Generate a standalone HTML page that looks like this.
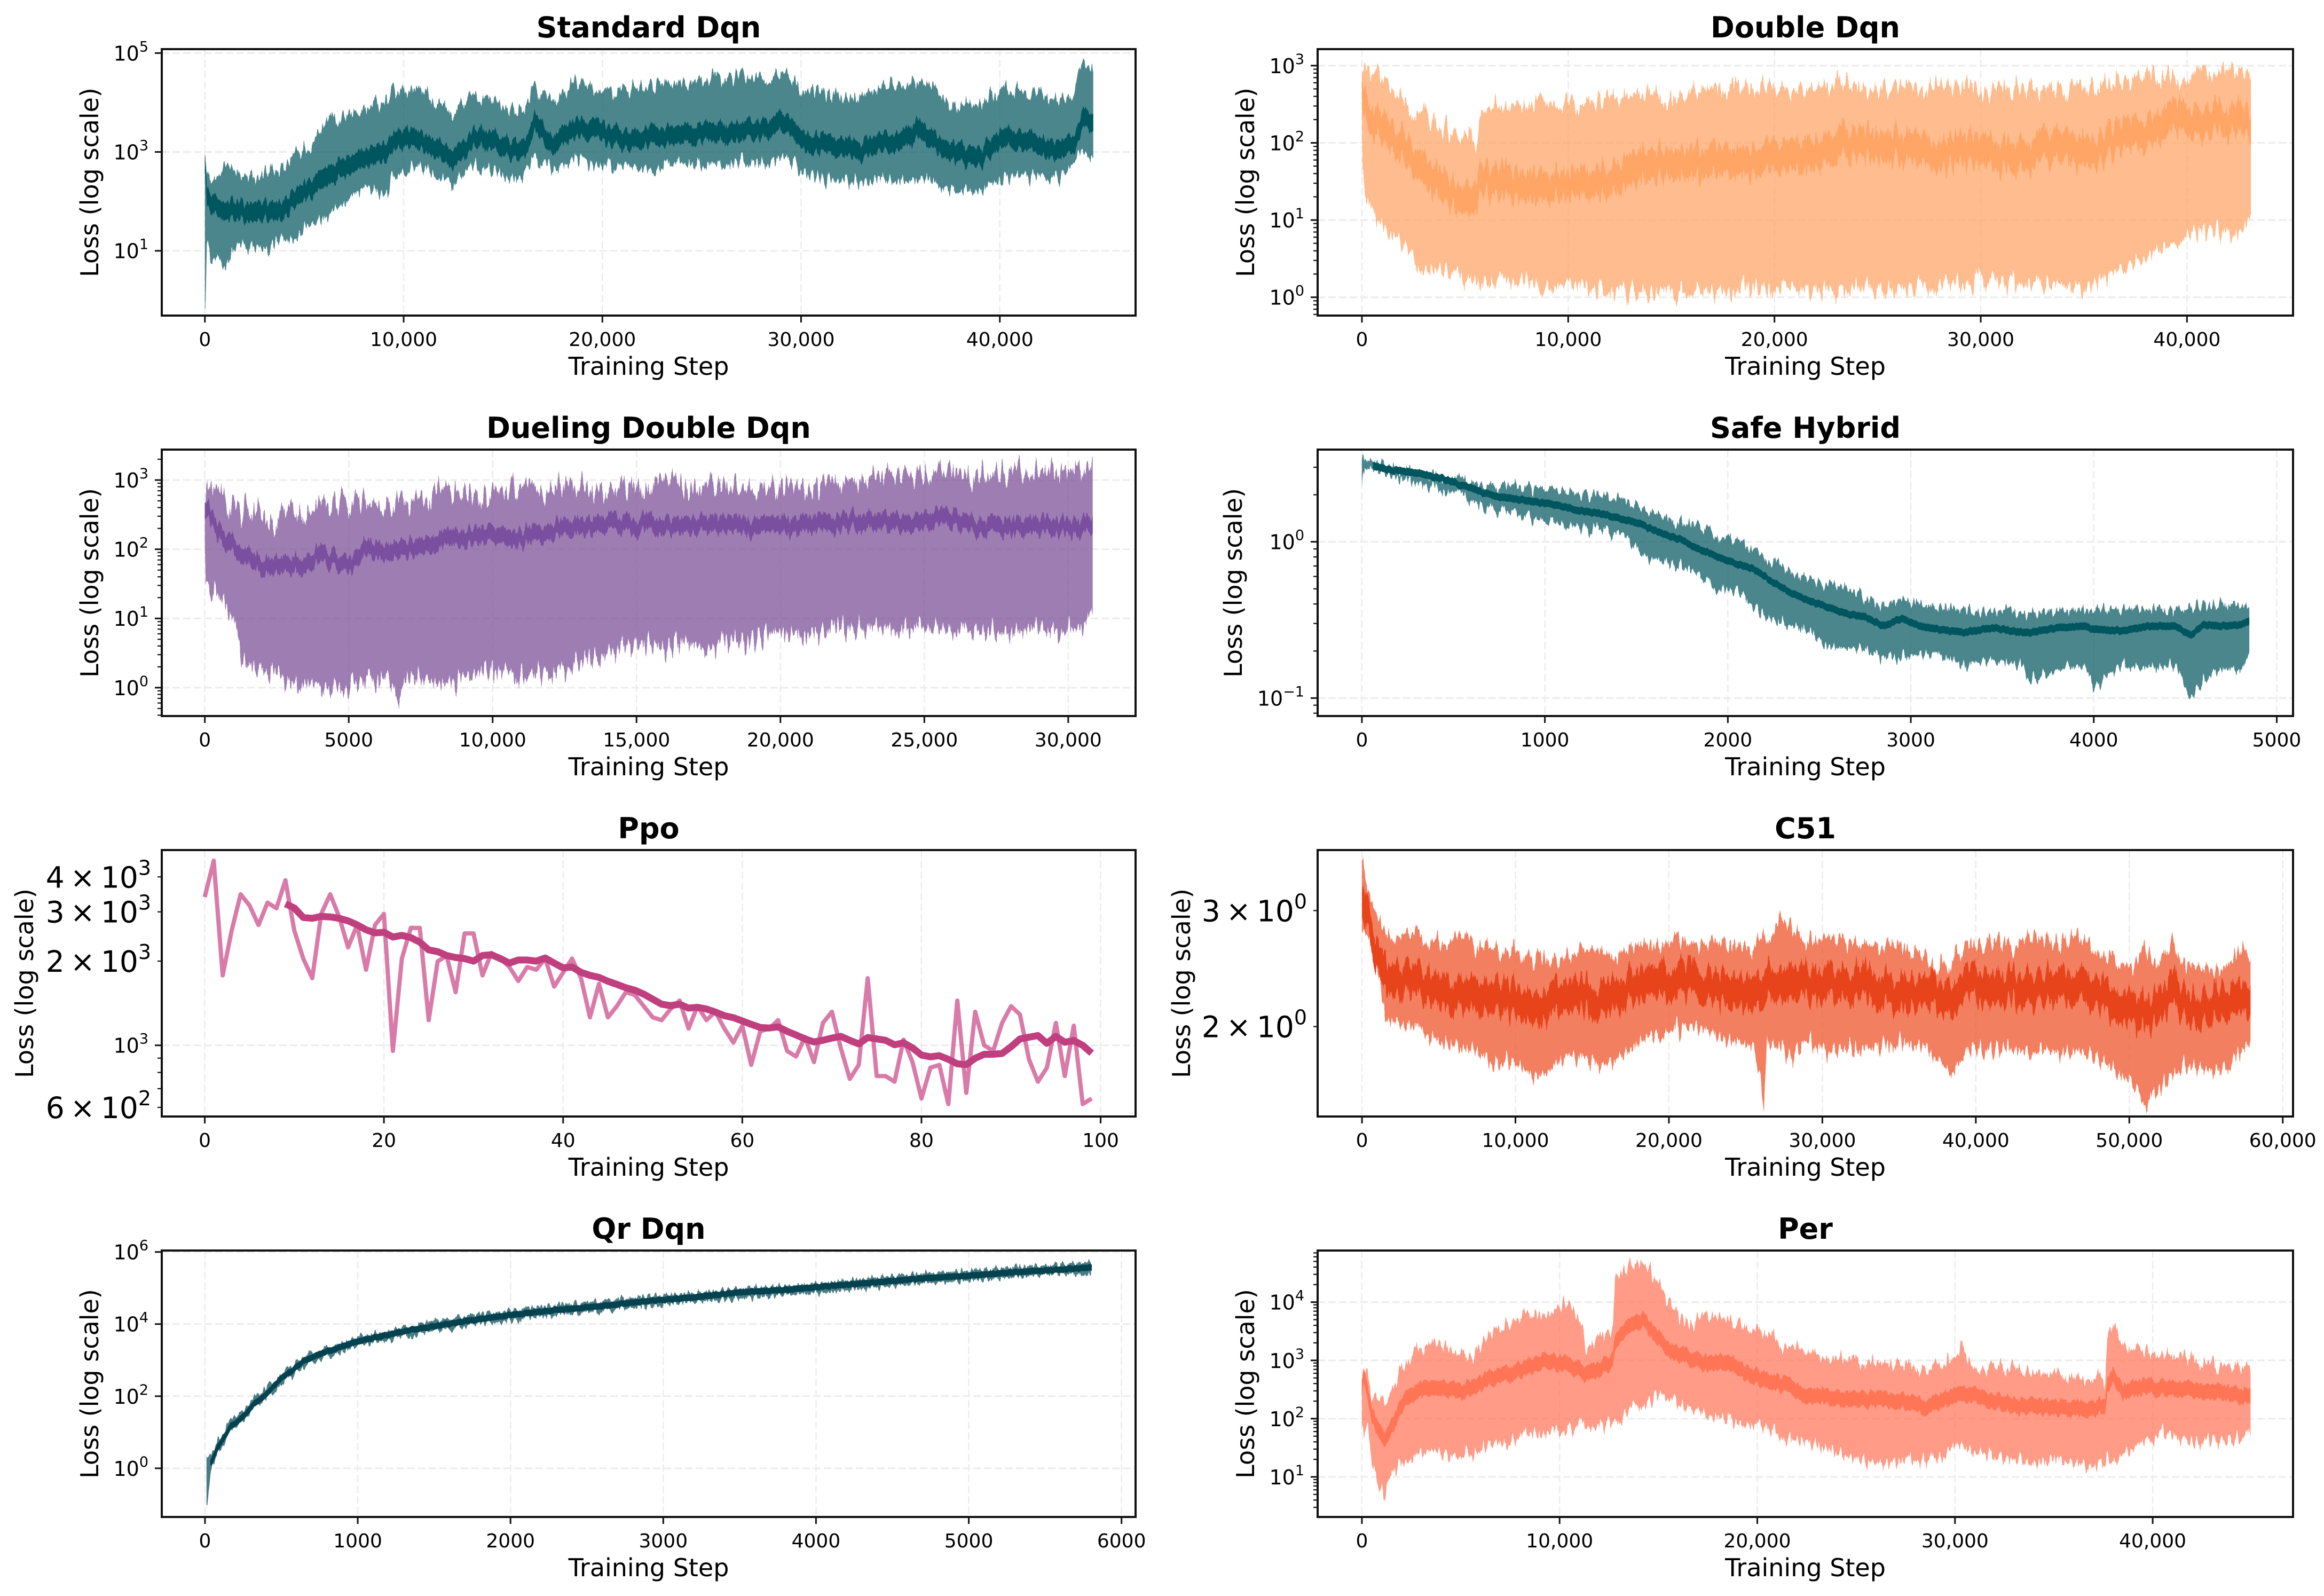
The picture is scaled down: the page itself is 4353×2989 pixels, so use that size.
<!DOCTYPE html>
<html lang="en">
<head>
<meta charset="utf-8">
<title>Training Loss by Algorithm</title>
<style>
html,body{margin:0;padding:0;background:#fff;}
svg{display:block;}
text{font-family:"DejaVu Sans","Liberation Sans",sans-serif;fill:#000;}
</style>
</head>
<body>
<svg id="chart" xmlns="http://www.w3.org/2000/svg" width="4353" height="2989" viewBox="0 0 4353 2989"><rect width="4353" height="2989" fill="#fff"/></svg>
<script>
// All loss series are log10(loss) values.
const stdSteps=[0,20,100,300,600,1000,1500,2000,2500,3000,3500,4000,4500,5000,5500,6000,7000,8000,9000,9500,10500,11500,12500,13500,14500,15500,16200,16600,17500,18500,19500,20500,21500,22500,23500,24500,25500,26500,27500,28500,29200,30000,31000,32000,33000,34000,35000,36000,37000,38000,39000,40000,41000,42000,43000,43800,44200,44700];
const stdUpper=[3.01,3.01,2.49,2.44,2.49,2.70,2.65,2.57,2.49,2.60,2.62,2.70,2.91,3.04,3.12,3.53,3.74,3.84,4.02,4.28,4.28,4.08,3.79,4.13,4.05,3.79,4.00,4.31,4.00,4.41,4.28,4.21,4.28,4.34,4.39,4.39,4.49,4.52,4.54,4.49,4.67,4.26,4.23,4.15,4.13,4.31,4.39,4.47,4.15,3.87,4.00,4.26,4.23,4.18,4.00,4.26,4.85,4.62];
const stdLower=[-0.10,-0.10,1.14,0.88,0.83,0.73,1.04,1.09,1.09,0.94,1.14,1.25,1.20,1.46,1.56,1.66,1.97,2.29,2.10,2.49,2.70,2.55,2.34,2.70,2.60,2.39,2.65,2.91,2.60,2.86,2.75,2.70,2.70,2.60,2.80,2.75,2.70,2.75,2.80,2.80,2.96,2.60,2.44,2.44,2.39,2.44,2.39,2.49,2.29,2.23,2.18,2.44,2.55,2.49,2.44,2.86,2.96,2.91];
const stdSmooth=[2.75,2.70,2.08,1.97,1.92,1.79,1.84,1.79,1.77,1.82,1.79,1.84,2.08,2.21,2.31,2.44,2.70,2.86,3.01,3.19,3.30,3.12,2.83,3.27,3.25,3.01,3.12,3.58,3.14,3.48,3.48,3.30,3.25,3.32,3.32,3.40,3.40,3.40,3.48,3.45,3.64,3.25,3.17,3.12,3.01,3.22,3.19,3.48,3.12,2.96,2.86,3.27,3.27,3.17,3.01,3.27,3.69,3.58];
const stdXTicks=[0,10000,20000,30000,40000];
const stdYTicks=[1,3,5];

const dblSteps=[0,30,150,400,700,1000,1300,1600,2000,2500,3000,3500,4000,4500,5000,5600,5750,6500,7500,8500,9500,10500,11500,12500,13500,14500,15500,16500,17500,18500,19500,20500,21500,22500,23500,24500,25500,26500,27500,28500,29500,30500,31500,32500,33500,34500,35500,36500,37500,38500,39500,40500,41500,42500,43100];
const dblUpper=[2.79,2.99,3.04,2.85,2.92,2.85,2.72,2.59,2.52,2.42,2.39,2.32,2.22,2.16,2.09,2.01,2.36,2.46,2.49,2.52,2.55,2.49,2.57,2.54,2.65,2.62,2.60,2.69,2.70,2.72,2.69,2.70,2.67,2.70,2.79,2.70,2.70,2.72,2.70,2.74,2.72,2.69,2.70,2.70,2.72,2.72,2.75,2.80,2.82,2.89,2.87,2.89,2.95,2.92,2.82];
const dblLower=[2.19,1.59,1.39,1.19,1.03,0.93,0.79,0.76,0.66,0.46,0.40,0.33,0.30,0.26,0.26,0.16,0.23,0.23,0.23,0.16,0.13,0.13,0.10,0.06,0.06,0.06,0.06,0.03,0.06,0.10,0.13,0.13,0.10,0.10,0.10,0.10,0.10,0.15,0.16,0.20,0.21,0.23,0.21,0.20,0.15,0.11,0.15,0.30,0.43,0.59,0.66,0.86,0.86,0.79,1.06];
const dblSmooth=[2.75,2.59,2.49,2.36,2.29,2.16,2.09,2.02,1.96,1.79,1.62,1.52,1.43,1.33,1.26,1.29,1.52,1.49,1.46,1.43,1.46,1.52,1.49,1.56,1.66,1.72,1.76,1.72,1.79,1.76,1.79,1.82,1.82,1.89,1.99,2.02,1.99,1.92,1.89,1.86,1.89,1.86,1.82,1.89,1.92,1.89,1.89,2.09,2.16,2.22,2.29,2.26,2.32,2.29,2.26];
const dblXTicks=[0,10000,20000,30000,40000];
const dblYTicks=[0,1,2,3];

const duelSteps=[0,30,200,500,800,1100,1300,1600,2000,2300,2600,3000,3500,4000,4500,5000,5500,6000,6500,6700,7000,7500,8000,8500,9000,9500,10000,10500,11000,11500,12000,12500,13000,13500,14000,14500,15000,15500,16000,16500,17000,17500,18000,18500,19000,19500,20000,20500,21000,21500,22000,22500,23000,23500,24000,24500,25000,25500,26000,26500,27000,27500,28000,28500,29000,29500,30000,30500,30850];
const duelUpper=[2.70,2.87,2.91,2.87,2.63,2.59,2.55,2.59,2.48,2.37,2.52,2.55,2.59,2.67,2.63,2.67,2.67,2.67,2.67,2.78,2.70,2.76,2.81,2.80,2.85,2.81,2.81,2.89,2.87,2.89,2.87,2.87,2.89,2.89,2.91,2.93,2.89,2.96,2.96,2.93,2.94,2.93,2.94,2.89,2.81,2.87,2.89,2.89,2.89,2.93,2.96,3.00,3.00,3.15,3.07,3.07,3.07,3.11,3.15,3.07,3.07,3.11,3.11,3.11,3.11,3.13,3.15,3.17,3.17];
const duelLower=[2.18,1.63,1.37,1.25,1.14,0.81,0.44,0.29,0.29,0.21,0.14,0.07,-0.01,-0.01,-0.01,-0.04,0.07,0.14,0.10,-0.19,0.10,0.10,0.07,0.07,0.18,0.21,0.25,0.18,0.10,0.21,0.21,0.25,0.33,0.40,0.47,0.59,0.62,0.62,0.55,0.66,0.62,0.51,0.70,0.66,0.66,0.77,0.81,0.77,0.73,0.81,0.88,0.81,0.85,0.88,0.81,0.85,0.88,0.85,0.81,0.85,0.81,0.81,0.77,0.85,0.88,0.77,0.81,0.88,1.03];
const duelSmooth=[2.63,2.59,2.48,2.26,2.11,2.00,1.92,1.85,1.77,1.77,1.74,1.77,1.83,1.89,1.85,1.77,2.00,2.03,1.96,2.03,2.03,2.07,2.11,2.18,2.18,2.18,2.22,2.22,2.15,2.22,2.26,2.33,2.29,2.33,2.37,2.37,2.33,2.37,2.33,2.37,2.37,2.33,2.37,2.37,2.29,2.33,2.33,2.33,2.33,2.37,2.37,2.41,2.37,2.41,2.41,2.37,2.41,2.48,2.44,2.37,2.33,2.37,2.33,2.33,2.37,2.33,2.33,2.33,2.37];
const duelXTicks=[0,5000,10000,15000,20000,25000,30000];
const duelYTicks=[0,1,2,3];

const safeSteps=[0,15,60,150,300,450,600,700,850,1000,1150,1300,1450,1550,1600,1750,1850,1950,2050,2150,2250,2350,2450,2550,2650,2750,2850,2950,3050,3150,3300,3450,3600,3660,3800,3950,4000,4150,4300,4450,4530,4600,4700,4800,4850];
const safeUpper=[0.52,0.52,0.51,0.48,0.45,0.41,0.38,0.35,0.36,0.34,0.32,0.29,0.25,0.23,0.18,0.13,0.09,0.03,0.01,-0.03,-0.13,-0.20,-0.25,-0.28,-0.28,-0.36,-0.40,-0.37,-0.40,-0.42,-0.44,-0.44,-0.45,-0.46,-0.44,-0.44,-0.43,-0.43,-0.43,-0.43,-0.41,-0.40,-0.40,-0.41,-0.43];
const safeLower=[0.35,0.46,0.46,0.43,0.38,0.33,0.26,0.20,0.18,0.13,0.10,0.07,0.02,-0.08,-0.12,-0.15,-0.23,-0.31,-0.31,-0.41,-0.51,-0.54,-0.58,-0.68,-0.68,-0.69,-0.74,-0.74,-0.72,-0.72,-0.79,-0.76,-0.79,-0.89,-0.82,-0.79,-0.94,-0.79,-0.81,-0.79,-1.02,-0.89,-0.82,-0.82,-0.71];
const safeSmooth=[null,null,0.49,0.46,0.44,0.40,0.34,0.30,0.27,0.25,0.21,0.18,0.14,0.10,0.07,0.01,-0.05,-0.10,-0.14,-0.18,-0.26,-0.33,-0.38,-0.42,-0.46,-0.48,-0.54,-0.49,-0.54,-0.56,-0.58,-0.55,-0.58,-0.58,-0.55,-0.54,-0.56,-0.57,-0.54,-0.54,-0.60,-0.53,-0.54,-0.53,-0.51];
const safeXTicks=[0,1000,2000,3000,4000,5000];
const safeYTicks=[-1,0];

const ppoSteps=[0,1,2,3,4,5,6,7,8,9,10,11,12,13,14,15,16,17,18,19,20,21,22,23,24,25,26,27,28,29,30,31,32,33,34,35,36,37,38,39,40,41,42,43,44,45,46,47,48,49,50,51,52,53,54,55,56,57,58,59,60,61,62,63,64,65,66,67,68,69,70,71,72,73,74,75,76,77,78,79,80,81,82,83,84,85,86,87,88,89,90,91,92,93,94,95,96,97,98,99];
const ppoRaw=[3.53,3.66,3.25,3.41,3.54,3.50,3.43,3.51,3.49,3.59,3.41,3.31,3.24,3.47,3.54,3.46,3.35,3.43,3.27,3.43,3.47,2.98,3.31,3.42,3.42,3.09,3.30,3.32,3.19,3.40,3.40,3.25,3.33,3.31,3.28,3.23,3.28,3.27,3.31,3.21,3.26,3.31,3.24,3.10,3.22,3.10,3.14,3.19,3.18,3.14,3.10,3.09,3.13,3.16,3.06,3.14,3.09,3.12,3.06,3.01,3.07,2.93,3.05,3.06,3.09,2.98,2.96,3.03,2.94,3.08,3.12,2.99,2.88,2.93,3.24,2.89,2.89,2.87,3.02,2.94,2.81,2.92,2.93,2.79,3.16,2.83,3.12,3.00,2.98,3.08,3.14,3.11,2.95,2.87,2.92,3.08,2.89,3.07,2.79,2.81];
const ppoSmooth=[null,null,null,null,null,null,null,null,null,3.506,3.491,3.457,3.454,3.461,3.459,3.454,3.445,3.431,3.413,3.402,3.404,3.387,3.393,3.385,3.369,3.341,3.335,3.321,3.314,3.310,3.301,3.321,3.324,3.310,3.294,3.305,3.305,3.301,3.312,3.294,3.277,3.280,3.261,3.250,3.243,3.229,3.218,3.206,3.197,3.183,3.165,3.147,3.142,3.147,3.133,3.136,3.130,3.119,3.106,3.099,3.087,3.075,3.064,3.062,3.066,3.050,3.037,3.023,3.012,3.018,3.026,3.032,3.018,3.005,3.028,3.023,3.018,3.002,3.009,2.991,2.965,2.959,2.963,2.950,2.934,2.931,2.954,2.968,2.968,2.971,2.995,3.023,3.029,3.035,3.007,3.032,3.011,3.017,3.000,2.972];
const ppoXTicks=[0,20,40,60,80,100];
const ppoYTicks=[3];
const ppoYMinorLabels=[600,2000,3000,4000];

const c51Steps=[0,50,200,500,800,1100,1400,2000,2800,3500,4500,5500,6500,7500,8500,9500,10500,11400,12500,13500,14500,15500,16500,17500,18500,19500,20500,21500,22500,23500,24500,25500,26200,26400,27300,28000,28800,29500,30500,31500,32500,33500,34500,35500,36500,37500,38500,39500,40500,41500,42500,43500,44500,45500,46500,47500,48500,49500,50500,51000,52000,52800,53500,54500,55500,56500,57500,57900];
const c51Upper=[0.552,0.552,0.533,0.502,0.475,0.459,0.444,0.432,0.440,0.444,0.432,0.432,0.436,0.424,0.421,0.417,0.409,0.405,0.401,0.413,0.424,0.409,0.413,0.421,0.428,0.428,0.432,0.432,0.424,0.428,0.421,0.417,0.452,0.428,0.459,0.452,0.436,0.432,0.438,0.432,0.432,0.421,0.421,0.421,0.413,0.393,0.401,0.424,0.432,0.432,0.421,0.432,0.428,0.426,0.438,0.421,0.409,0.393,0.401,0.413,0.393,0.436,0.401,0.393,0.389,0.389,0.421,0.401];
const c51Lower=[0.432,0.432,0.448,0.440,0.401,0.370,0.319,0.308,0.300,0.300,0.284,0.272,0.269,0.265,0.241,0.249,0.237,0.222,0.241,0.257,0.253,0.241,0.249,0.265,0.288,0.288,0.296,0.304,0.292,0.280,0.276,0.272,0.187,0.272,0.269,0.249,0.280,0.272,0.261,0.269,0.265,0.269,0.272,0.276,0.269,0.253,0.226,0.269,0.265,0.265,0.269,0.257,0.265,0.261,0.261,0.257,0.245,0.226,0.206,0.183,0.206,0.226,0.241,0.237,0.234,0.237,0.272,0.272];
const c51Smooth=[0.487,0.495,0.479,0.456,0.424,0.401,0.385,0.378,0.374,0.374,0.362,0.350,0.350,0.346,0.346,0.343,0.335,0.323,0.343,0.350,0.346,0.339,0.343,0.362,0.370,0.370,0.366,0.374,0.362,0.354,0.358,0.354,0.354,0.370,0.370,0.370,0.370,0.370,0.366,0.366,0.370,0.354,0.354,0.350,0.358,0.346,0.339,0.366,0.362,0.354,0.362,0.358,0.362,0.358,0.362,0.358,0.343,0.335,0.323,0.319,0.331,0.354,0.343,0.327,0.339,0.335,0.354,0.339];
const c51XTicks=[0,10000,20000,30000,40000,50000,60000];
const c51YTicks=[];
const c51YMinorLabels=[2,3];

const qrSteps=[10,15,40,80,120,170,220,270,320,370,430,500,570,650,750,850,1000,1150,1300,1500,1700,2000,2300,2600,2900,3200,3500,3800,4100,4400,4700,5000,5300,5600,5800];
const qrUpper=[0.34,0.34,0.41,0.76,0.97,1.35,1.45,1.66,1.94,2.08,2.36,2.64,2.85,3.13,3.27,3.45,3.62,3.76,3.90,4.08,4.22,4.39,4.53,4.64,4.78,4.85,4.99,5.06,5.16,5.30,5.41,5.48,5.59,5.65,5.72];
const qrLower=[-1.03,-1.03,-0.01,0.41,0.65,1.03,1.17,1.38,1.66,1.80,2.05,2.36,2.57,2.85,3.06,3.20,3.38,3.52,3.66,3.80,3.94,4.11,4.25,4.36,4.50,4.60,4.71,4.81,4.88,5.02,5.13,5.20,5.30,5.41,5.34];
const qrSmooth=[null,null,0.16,0.55,0.83,1.17,1.31,1.52,1.80,1.94,2.19,2.50,2.71,2.99,3.17,3.31,3.52,3.66,3.80,3.94,4.08,4.25,4.39,4.50,4.64,4.74,4.88,4.95,5.06,5.16,5.27,5.34,5.44,5.51,5.57];
const qrXTicks=[0,1000,2000,3000,4000,5000,6000];
const qrYTicks=[0,2,4,6];

const perSteps=[0,100,300,500,800,1000,1100,1300,1600,2000,2400,2700,3000,4000,5000,5500,6500,7500,8500,9500,10300,11000,11300,12000,12700,12800,13500,14200,14800,15500,16500,17500,18500,19500,20500,21500,22500,23500,24500,25500,26500,27500,28500,29500,30000,30300,31000,32000,33000,34000,35000,36000,37000,37600,37700,38000,38500,39500,40500,41500,42500,43500,44500,44950];
const perUpper=[2.60,2.82,2.73,2.30,2.39,2.34,2.26,2.39,2.52,2.91,2.91,3.17,3.21,3.30,3.12,2.99,3.51,3.64,3.82,3.77,4.01,3.77,3.17,3.43,3.51,4.38,4.64,4.69,4.43,4.03,3.60,3.82,3.69,3.60,3.43,3.25,3.12,3.04,3.02,2.95,2.95,2.91,2.78,2.99,3.04,3.28,2.91,2.86,2.86,2.78,2.78,2.69,2.69,2.69,3.30,3.69,3.25,3.17,3.08,3.08,2.99,2.86,2.95,2.91];
const perLower=[1.96,1.82,1.82,1.30,0.87,0.82,0.50,0.91,1.13,1.21,1.26,1.30,1.48,1.39,1.34,1.39,1.61,1.61,1.74,1.82,1.74,1.91,1.82,1.87,1.91,1.95,2.13,2.21,2.39,2.34,2.21,2.08,1.96,1.95,1.82,1.65,1.56,1.48,1.34,1.26,1.21,1.30,1.26,1.39,1.56,1.52,1.48,1.34,1.30,1.21,1.30,1.21,1.17,1.26,1.30,1.30,1.39,1.56,1.74,1.61,1.61,1.61,1.65,1.82];
const perSmooth=[2.52,2.69,2.43,2.04,1.82,1.69,1.65,1.74,1.91,2.26,2.39,2.47,2.54,2.52,2.49,2.52,2.69,2.78,2.91,2.99,2.95,2.86,2.78,2.84,2.99,3.30,3.60,3.69,3.47,3.17,3.04,2.95,2.95,2.78,2.65,2.56,2.39,2.39,2.34,2.34,2.32,2.30,2.19,2.34,2.39,2.43,2.39,2.30,2.23,2.21,2.21,2.17,2.17,2.26,2.56,2.73,2.47,2.56,2.52,2.52,2.47,2.43,2.39,2.39];
const perXTicks=[0,10000,20000,30000,40000];
const perYTicks=[1,2,3,4];

const SVGNS='http://www.w3.org/2000/svg';
const root=document.getElementById('chart');
const colLeft=[303,2468];
const colRight=[2127,4295];
const rowTop=[92,842,1592,2342];
const rowBottom=[591,1341,2091,2841];

const panels=[
 {id:'standard-dqn',title:'Standard Dqn',col:0,row:0,xlim:[-2170,46830],ylim:[-0.31,5.08],steps:stdSteps,upper:stdUpper,lower:stdLower,smooth:stdSmooth,xTicks:stdXTicks,yTicks:stdYTicks,minors:false,minorLabels:[],labelX:168,band:'#00545e',bandOp:0.7,line:'#00565f',lw:34,bandNoise:40,lineNoise:24,seed:3},
 {id:'double-dqn',title:'Double Dqn',col:1,row:0,xlim:[-2147,45140],ylim:[-0.237,3.214],steps:dblSteps,upper:dblUpper,lower:dblLower,smooth:dblSmooth,xTicks:dblXTicks,yTicks:dblYTicks,minors:true,minorLabels:[],labelX:2333,band:'#ffa160',bandOp:0.7,line:'#ffa566',lw:54,bandNoise:55,lineNoise:50,seed:7},
 {id:'dueling-double-dqn',title:'Dueling Double Dqn',col:0,row:1,xlim:[-1497,32340],ylim:[-0.41,3.44],steps:duelSteps,upper:duelUpper,lower:duelLower,smooth:duelSmooth,xTicks:duelXTicks,yTicks:duelYTicks,minors:true,minorLabels:[],labelX:168,band:'#764892',bandOp:0.7,line:'#7a4f9f',lw:30,bandNoise:65,lineNoise:28,seed:11},
 {id:'safe-hybrid',title:'Safe Hybrid',col:1,row:1,xlim:[-242,5089],ylim:[-1.115,0.59],steps:safeSteps,upper:safeUpper,lower:safeLower,smooth:safeSmooth,xTicks:safeXTicks,yTicks:safeYTicks,minors:true,minorLabels:[],labelX:2310,band:'#00545e',bandOp:0.7,line:'#00565f',lw:14,bandNoise:34,lineNoise:5,seed:13},
 {id:'ppo',title:'Ppo',col:0,row:2,xlim:[-4.8,103.9],ylim:[2.7456,3.698],steps:ppoSteps,raw:ppoRaw,smooth:ppoSmooth,xTicks:ppoXTicks,yTicks:ppoYTicks,minors:true,minorLabels:ppoYMinorLabels,labelX:46,band:'#c73c80',bandOp:0.68,line:'#c0407f',lw:13,seed:17},
 {id:'c51',title:'C51',col:1,row:2,xlim:[-2890,60670],ylim:[0.1645,0.569],steps:c51Steps,upper:c51Upper,lower:c51Lower,smooth:c51Smooth,xTicks:c51XTicks,yTicks:c51YTicks,minors:true,minorLabels:c51YMinorLabels,labelX:2213,band:'#ee4a1f',bandOp:0.7,line:'#e8441b',lw:58,bandNoise:50,lineNoise:50,seed:19},
 {id:'qr-dqn',title:'Qr Dqn',col:0,row:3,xlim:[-283,6092],ylim:[-1.35,6.04],steps:qrSteps,upper:qrUpper,lower:qrLower,smooth:qrSmooth,xTicks:qrXTicks,yTicks:qrYTicks,minors:false,minorLabels:[],labelX:168,band:'#004450',bandOp:0.7,line:'#05424f',lw:9,bandNoise:18,lineNoise:3,seed:23},
 {id:'per',title:'Per',col:1,row:3,xlim:[-2240,47100],ylim:[0.312,4.886],steps:perSteps,upper:perUpper,lower:perLower,smooth:perSmooth,xTicks:perXTicks,yTicks:perYTicks,minors:true,minorLabels:[],labelX:2333,band:'#ff7254',bandOp:0.7,line:'#ff7556',lw:28,bandNoise:40,lineNoise:14,seed:29}
];

function make(tag,attrs,parent){
  const el=document.createElementNS(SVGNS,tag);
  for(const k in attrs){el.setAttribute(k,attrs[k]);}
  if(parent){parent.appendChild(el);}
  return el;
}
function xScale(p,step){
  const l=colLeft[p.col],r=colRight[p.col];
  return l+(step-p.xlim[0])/(p.xlim[1]-p.xlim[0])*(r-l);
}
function yScale(p,logValue){
  const t=rowTop[p.row],b=rowBottom[p.row];
  return b-(logValue-p.ylim[0])/(p.ylim[1]-p.ylim[0])*(b-t);
}
function fmtStep(v){
  return v>=10000?String(v).replace(/\B(?=(\d{3})+(?!\d))/g,','):String(v);
}
function noiseFilter(defs,id,p,scale,seed){
  const l=colLeft[p.col],t=rowTop[p.row];
  const f=make('filter',{id:id,filterUnits:'userSpaceOnUse',x:l-10,y:t-60,width:colRight[p.col]-l+20,height:rowBottom[p.row]-t+120,'color-interpolation-filters':'sRGB'},defs);
  make('feTurbulence',{type:'fractalNoise',baseFrequency:'0.16 0.0025',numOctaves:3,seed:seed,result:'n'},f);
  make('feColorMatrix',{in:'n',type:'matrix',values:'1.5 0 0 0 -0.25  0 0 0 0 0  0 0 0 0 0.5  0 0 0 0 1',result:'m'},f);
  make('feDisplacementMap',{in:'SourceGraphic',in2:'m',scale:scale,xChannelSelector:'B',yChannelSelector:'R'},f);
}

const defs=make('defs',{},root);

panels.forEach(function(p){
  const l=colLeft[p.col],r=colRight[p.col],t=rowTop[p.row],b=rowBottom[p.row];
  const g=make('g',{},root);
  
  

  make('rect',{x:l,y:t,width:r-l,height:b-t,fill:'#fff'},g);

  const clip=make('clipPath',{id:'clip-'+p.id},defs);
  make('rect',{x:l,y:t,width:r-l,height:b-t},clip);

  // grid
  p.xTicks.forEach(function(v){
    const x=xScale(p,v);
    if(x<l||x>r){return;}
    const gl=make('line',{x1:x,x2:x,y1:t,y2:b,stroke:'#ececec','stroke-width':2.5,'stroke-dasharray':'14 6'},g);
    
    
  });
  p.yTicks.forEach(function(v){
    const y=yScale(p,v);
    const gl=make('line',{x1:l,x2:r,y1:y,y2:y,stroke:'#ececec','stroke-width':3,'stroke-dasharray':'14 6'},g);
    
    
  });

  // marks
  const plot=make('g',{'clip-path':'url(#clip-'+p.id+')'},g);
  if(p.raw){
    const pts=p.steps.map(function(s,i){return xScale(p,s).toFixed(1)+','+yScale(p,p.raw[i]).toFixed(1);}).join(' ');
    const rawLine=make('polyline',{points:pts,fill:'none',stroke:p.band,'stroke-opacity':p.bandOp,'stroke-width':8,'stroke-linejoin':'round'},plot);
    
    
    const smoothPts=[];
    p.steps.forEach(function(s,i){
      if(p.smooth[i]===null){return;}
      smoothPts.push(xScale(p,s).toFixed(1)+','+yScale(p,p.smooth[i]).toFixed(1));
    });
    const smoothLine=make('polyline',{points:smoothPts.join(' '),fill:'none',stroke:p.line,'stroke-width':p.lw,'stroke-linejoin':'round','stroke-linecap':'butt'},plot);
    
    
  }else{
    noiseFilter(defs,'band-noise-'+p.id,p,p.bandNoise,p.seed);
    noiseFilter(defs,'line-noise-'+p.id,p,p.lineNoise,p.seed+1);
    const top=p.steps.map(function(s,i){return xScale(p,s).toFixed(1)+','+yScale(p,p.upper[i]).toFixed(1);});
    const bot=p.steps.map(function(s,i){return xScale(p,s).toFixed(1)+','+yScale(p,p.lower[i]).toFixed(1);}).reverse();
    const bandGroup=make('g',{opacity:p.bandOp},plot);
    const band=make('polygon',{points:top.concat(bot).join(' '),fill:p.band,filter:'url(#band-noise-'+p.id+')'},bandGroup);
    
    
    const upperEdge=[];
    const lowerEdge=[];
    p.steps.forEach(function(s,i){
      if(p.smooth[i]===null){return;}
      const x=xScale(p,s).toFixed(1);
      const y=yScale(p,p.smooth[i]);
      upperEdge.push(x+','+(y-p.lw/2).toFixed(1));
      lowerEdge.unshift(x+','+(y+p.lw/2).toFixed(1));
    });
    const smoothBand=make('polygon',{points:upperEdge.concat(lowerEdge).join(' '),fill:p.line,stroke:p.line,'stroke-width':p.lw<12?3:0,filter:'url(#line-noise-'+p.id+')'},plot);
    
    
  }

  // spines
  const frame=make('rect',{x:l,y:t,width:r-l,height:b-t,fill:'none',stroke:'#111','stroke-width':4},g);
  
  

  // x ticks
  p.xTicks.forEach(function(v){
    const x=xScale(p,v);
    const tk=make('line',{x1:x,x2:x,y1:b,y2:b+13,stroke:'#111','stroke-width':3},g);
    
    
    const lb=make('text',{x:x,y:b+57,'text-anchor':'middle','font-size':36},g);
    lb.textContent=fmtStep(v);
    
    
  });

  // y major ticks
  p.yTicks.forEach(function(v){
    const y=yScale(p,v);
    const tk=make('line',{x1:l-13,x2:l,y1:y,y2:y,stroke:'#111','stroke-width':3},g);
    
    
    const lb=make('text',{x:l-25,y:y+14,'text-anchor':'end','font-size':38},g);
    
    
    make('tspan',{},lb).textContent='10';
    make('tspan',{dy:-17,'font-size':27},lb).textContent=String(v).replace('-','\u2212');
  });

  // y minor ticks
  if(p.minors){
    for(let e=Math.floor(p.ylim[0]);e<Math.ceil(p.ylim[1]);e++){
      for(let m=2;m<10;m++){
        const lv=e+Math.log10(m);
        if(lv<p.ylim[0]||lv>p.ylim[1]){continue;}
        const y=yScale(p,lv);
        const tk=make('line',{x1:l-8,x2:l,y1:y,y2:y,stroke:'#111','stroke-width':2.2},g);
        
        
      }
    }
  }

  // labelled minor ticks (m x 10^e)
  p.minorLabels.forEach(function(v){
    const e=Math.floor(Math.log10(v)+1e-9);
    const m=Math.round(v/Math.pow(10,e));
    const y=yScale(p,Math.log10(v));
    const lb=make('text',{x:l-20,y:y+20,'text-anchor':'end','font-size':55},g);
    
    
    make('tspan',{},lb).textContent=m+'\u2009\u00d7\u200910';
    make('tspan',{dy:-24,'font-size':38},lb).textContent=String(e);
  });

  // texts
  const title=make('text',{x:(l+r)/2,y:t-22,'text-anchor':'middle','font-size':54,'font-weight':'bold'},g);
  title.textContent=p.title;
  
  

  const xt=make('text',{x:(l+r)/2,y:b+111,'text-anchor':'middle','font-size':46},g);
  xt.textContent='Training Step';
  
  

  const cy=(t+b)/2;
  const yt=make('text',{x:p.labelX,y:cy,'text-anchor':'middle','dominant-baseline':'central','font-size':46,transform:'rotate(-90 '+p.labelX+' '+cy+')'},g);
  yt.textContent='Loss (log scale)';
  
  
});
</script>
</body>
</html>
